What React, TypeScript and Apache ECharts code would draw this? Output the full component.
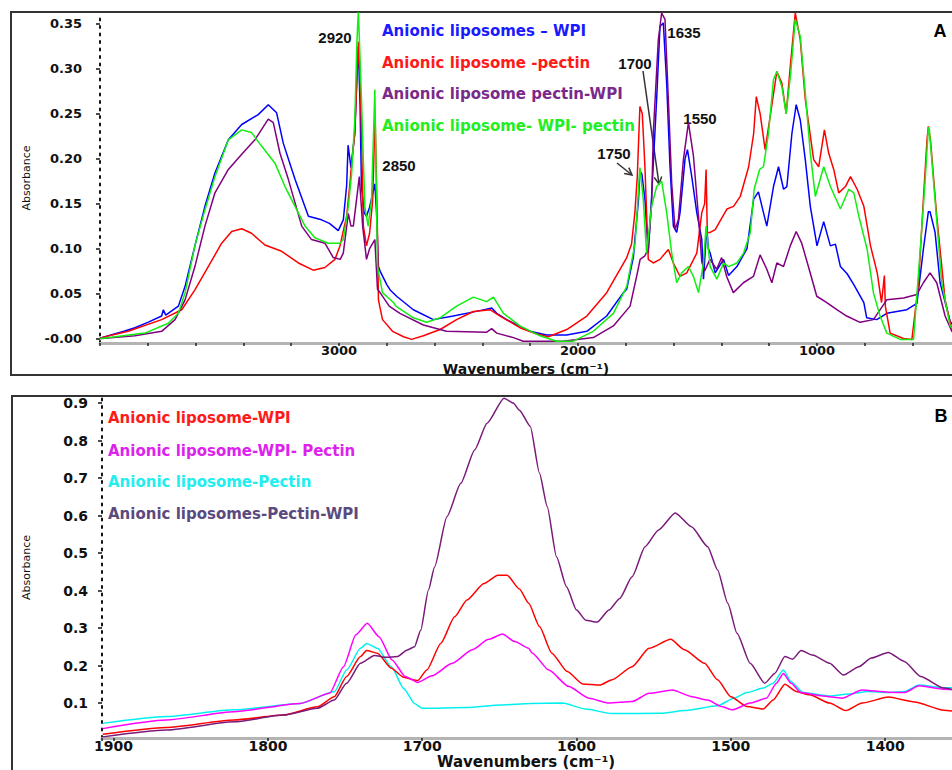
import React, { useEffect, useRef } from "react";
import * as echarts from "echarts";

type P = [number, number];

// ---------- Panel A (full spectrum) ----------
const A_X_LABELS = [1000, 2000, 3000];

const wpiA: P[] = [[4000,0.0],[3993,0.001],[3900,0.008],[3854,0.012],[3800,0.018],[3742,0.025],[3735,0.032],[3725,0.026],[3672,0.036],[3644,0.058],[3603,0.103],[3561,0.147],[3519,0.184],[3463,0.221],[3407,0.238],[3338,0.249],[3296,0.26],[3261,0.251],[3233,0.217],[3184,0.177],[3128,0.136],[3073,0.132],[3040,0.128],[3003,0.12],[2982,0.132],[2968,0.17],[2962,0.215],[2950,0.19],[2934,0.228],[2925,0.29],[2919,0.325],[2912,0.26],[2906,0.169],[2895,0.14],[2885,0.136],[2872,0.146],[2860,0.16],[2850,0.172],[2843,0.14],[2835,0.08],[2828,0.075],[2800,0.06],[2786,0.054],[2759,0.047],[2689,0.032],[2605,0.021],[2522,0.025],[2410,0.031],[2361,0.034],[2340,0.028],[2298,0.021],[2201,0.008],[2131,0.004],[2047,0.004],[1963,0.008],[1880,0.025],[1810,0.051],[1796,0.055],[1768,0.091],[1762,0.11],[1747,0.154],[1741,0.186],[1733,0.183],[1720,0.155],[1706,0.095],[1692,0.158],[1671,0.266],[1657,0.347],[1643,0.351],[1629,0.284],[1615,0.191],[1601,0.125],[1587,0.118],[1573,0.14],[1552,0.2],[1542,0.21],[1524,0.18],[1503,0.14],[1482,0.11],[1475,0.066],[1461,0.125],[1455,0.1],[1447,0.095],[1426,0.073],[1391,0.088],[1370,0.07],[1335,0.08],[1293,0.1],[1265,0.155],[1245,0.163],[1224,0.14],[1210,0.125],[1182,0.169],[1161,0.191],[1140,0.166],[1126,0.169],[1105,0.228],[1087,0.26],[1070,0.243],[1049,0.199],[1028,0.147],[1000,0.103],[972,0.13],[944,0.103],[923,0.105],[902,0.08],[874,0.072],[846,0.06],[804,0.04],[792,0.023],[750,0.021],[708,0.028],[624,0.032],[582,0.039],[555,0.099],[534,0.141],[527,0.141],[506,0.118],[485,0.062],[443,0.019],[400,0.005]];

const pectinA: P[] = [[4000,0.0],[3993,0.001],[3882,0.008],[3742,0.021],[3658,0.032],[3603,0.054],[3547,0.08],[3491,0.106],[3449,0.119],[3407,0.122],[3366,0.117],[3310,0.104],[3240,0.097],[3170,0.084],[3108,0.076],[3059,0.079],[3017,0.088],[2996,0.103],[2968,0.136],[2954,0.173],[2947,0.195],[2934,0.228],[2919,0.33],[2909,0.266],[2898,0.125],[2885,0.103],[2872,0.117],[2859,0.154],[2849,0.249],[2839,0.117],[2835,0.043],[2818,0.021],[2776,0.008],[2730,0.002],[2696,-0.001],[2647,0.003],[2577,0.01],[2508,0.021],[2438,0.03],[2368,0.032],[2326,0.025],[2243,0.012],[2173,0.005],[2124,0.002],[2047,0.01],[1963,0.025],[1880,0.051],[1796,0.09],[1776,0.105],[1762,0.14],[1752,0.18],[1741,0.258],[1731,0.25],[1720,0.191],[1706,0.088],[1685,0.084],[1657,0.088],[1622,0.099],[1601,0.084],[1573,0.069],[1545,0.073],[1503,0.095],[1482,0.14],[1470,0.15],[1464,0.188],[1459,0.118],[1447,0.118],[1426,0.121],[1377,0.144],[1349,0.147],[1321,0.158],[1286,0.191],[1265,0.228],[1254,0.269],[1238,0.25],[1217,0.21],[1196,0.247],[1168,0.297],[1147,0.284],[1129,0.25],[1112,0.302],[1091,0.362],[1070,0.332],[1049,0.266],[1014,0.199],[993,0.191],[969,0.232],[951,0.206],[930,0.188],[909,0.162],[881,0.169],[860,0.18],[832,0.166],[804,0.147],[776,0.103],[748,0.073],[730,0.04],[718,0.07],[714,0.036],[694,0.006],[638,0.0],[603,-0.001],[575,0.062],[555,0.154],[540,0.22],[534,0.236],[525,0.22],[499,0.136],[464,0.043],[436,0.01],[400,0.002]];

const pectinWpiA: P[] = [[4000,0.0],[3993,0.0],[3854,0.003],[3742,0.008],[3686,0.021],[3644,0.043],[3603,0.08],[3561,0.125],[3519,0.162],[3463,0.188],[3407,0.205],[3352,0.221],[3296,0.244],[3275,0.24],[3247,0.206],[3212,0.177],[3156,0.125],[3115,0.11],[3059,0.106],[3024,0.09],[2995,0.088],[2982,0.095],[2961,0.139],[2950,0.125],[2940,0.125],[2915,0.18],[2901,0.125],[2885,0.088],[2872,0.1],[2850,0.11],[2839,0.055],[2828,0.051],[2790,0.036],[2745,0.028],[2647,0.015],[2550,0.008],[2382,0.007],[2361,0.011],[2340,0.006],[2270,0.001],[2229,-0.003],[2062,-0.003],[1936,0.001],[1852,0.014],[1782,0.036],[1754,0.07],[1740,0.088],[1720,0.092],[1706,0.1],[1692,0.15],[1685,0.228],[1664,0.332],[1650,0.362],[1636,0.355],[1622,0.266],[1608,0.173],[1594,0.121],[1580,0.132],[1559,0.199],[1538,0.24],[1517,0.203],[1496,0.136],[1482,0.085],[1470,0.075],[1448,0.088],[1420,0.077],[1399,0.09],[1378,0.069],[1350,0.051],[1308,0.062],[1266,0.069],[1238,0.093],[1210,0.077],[1189,0.062],[1168,0.084],[1140,0.08],[1112,0.103],[1087,0.119],[1064,0.106],[1036,0.08],[1001,0.047],[959,0.04],[917,0.032],[876,0.025],[820,0.018],[764,0.021],[708,0.043],[638,0.045],[582,0.049],[555,0.062],[527,0.073],[499,0.062],[464,0.025],[436,0.008],[400,0.002]];

const wpiPectinA: P[] = [[4000,0.0],[3993,0.0],[3812,0.006],[3714,0.017],[3672,0.028],[3644,0.051],[3603,0.103],[3561,0.143],[3519,0.18],[3463,0.221],[3407,0.232],[3366,0.229],[3324,0.214],[3268,0.195],[3226,0.169],[3184,0.147],[3142,0.125],[3101,0.112],[3045,0.106],[2996,0.106],[2982,0.11],[2961,0.147],[2947,0.184],[2934,0.243],[2925,0.33],[2919,0.365],[2906,0.266],[2892,0.147],[2878,0.125],[2864,0.154],[2850,0.277],[2839,0.08],[2828,0.065],[2818,0.051],[2772,0.04],[2762,0.036],[2689,0.023],[2633,0.018],[2577,0.023],[2508,0.036],[2438,0.046],[2382,0.041],[2354,0.046],[2312,0.028],[2243,0.014],[2159,0.003],[2089,-0.003],[2020,-0.003],[1936,0.008],[1852,0.028],[1796,0.058],[1761,0.106],[1741,0.19],[1727,0.155],[1713,0.095],[1692,0.147],[1671,0.169],[1650,0.175],[1629,0.14],[1608,0.095],[1587,0.062],[1566,0.073],[1538,0.08],[1517,0.069],[1496,0.051],[1475,0.084],[1464,0.125],[1447,0.08],[1419,0.066],[1391,0.084],[1370,0.08],[1335,0.084],[1307,0.095],[1279,0.118],[1263,0.166],[1240,0.188],[1224,0.191],[1203,0.228],[1182,0.288],[1168,0.297],[1147,0.28],[1129,0.25],[1110,0.295],[1091,0.355],[1070,0.336],[1049,0.273],[1028,0.206],[1007,0.158],[972,0.191],[944,0.169],[902,0.144],[867,0.166],[846,0.162],[825,0.136],[790,0.099],[764,0.051],[736,0.025],[708,0.006],[652,-0.001],[596,-0.001],[568,0.099],[548,0.173],[534,0.235],[530,0.232],[506,0.154],[478,0.062],[443,0.014],[400,0.002]];

// ---------- Panel B (1900-1350 region) ----------
const B_X_LABELS = [1400, 1500, 1600, 1700, 1800, 1900];

const wpiB: P[] = [[1907,0.017],[1866,0.035],[1822,0.055],[1790,0.068],[1768,0.09],[1757,0.117],[1749,0.171],[1740,0.224],[1736,0.24],[1729,0.233],[1720,0.193],[1712,0.169],[1703,0.16],[1697,0.188],[1688,0.259],[1679,0.33],[1671,0.375],[1660,0.419],[1651,0.441],[1645,0.441],[1637,0.404],[1631,0.366],[1624,0.304],[1616,0.233],[1606,0.184],[1596,0.151],[1585,0.148],[1577,0.162],[1564,0.197],[1553,0.246],[1539,0.27],[1530,0.242],[1517,0.206],[1508.6,0.162],[1500,0.117],[1489.6,0.091],[1479,0.084],[1472.6,0.108],[1465,0.15],[1457.6,0.131],[1449,0.122],[1436,0.1],[1425.5,0.08],[1415,0.1],[1398,0.116],[1381,0.103],[1362,0.081],[1350,0.075]];

const wpiPectinB: P[] = [[1907,0.032],[1866,0.055],[1822,0.077],[1779,0.099],[1760,0.126],[1751,0.197],[1743,0.282],[1735.6,0.313],[1728,0.277],[1719.5,0.215],[1711,0.171],[1703,0.155],[1693.6,0.173],[1680.6,0.206],[1667.6,0.242],[1657,0.27],[1648,0.284],[1640,0.264],[1631,0.246],[1628.6,0.233],[1618,0.188],[1605,0.144],[1592,0.113],[1579,0.1],[1564,0.104],[1553,0.126],[1538,0.135],[1525,0.117],[1515,0.108],[1506,0.091],[1499,0.082],[1487.5,0.1],[1477,0.113],[1470.5,0.153],[1466,0.179],[1461,0.153],[1454.5,0.128],[1440.5,0.119],[1428,0.113],[1415,0.135],[1398,0.129],[1387.6,0.128],[1378,0.146],[1362,0.137],[1350,0.135]];

const pectinB: P[] = [[1907,0.046],[1866,0.064],[1822,0.082],[1779,0.099],[1757,0.13],[1749,0.188],[1740,0.246],[1736,0.259],[1729,0.246],[1720,0.197],[1712,0.139],[1705,0.099],[1700,0.086],[1671,0.088],[1649,0.095],[1630,0.099],[1609,0.1],[1594,0.084],[1577,0.072],[1545,0.073],[1530,0.08],[1508.6,0.093],[1498,0.113],[1489.6,0.128],[1479,0.14],[1472.6,0.153],[1466,0.188],[1461,0.157],[1453,0.128],[1436,0.119],[1423.5,0.124],[1411,0.131],[1398,0.128],[1387.6,0.131],[1378,0.148],[1362,0.141],[1350,0.14]];

const pectinWpiB: P[] = [[1907,0.01],[1866,0.028],[1822,0.05],[1790,0.068],[1768,0.086],[1757,0.108],[1749,0.153],[1740,0.206],[1731,0.227],[1723,0.222],[1716,0.224],[1710,0.241],[1705,0.25],[1701,0.294],[1696,0.401],[1692,0.463],[1684,0.597],[1675,0.686],[1666,0.775],[1658,0.846],[1647,0.913],[1641,0.9],[1637,0.881],[1630,0.838],[1624,0.713],[1619,0.624],[1613,0.49],[1606.5,0.41],[1600,0.348],[1594,0.321],[1586.5,0.316],[1579,0.348],[1572,0.379],[1564,0.437],[1555.6,0.517],[1547,0.561],[1536,0.607],[1525.5,0.57],[1515,0.517],[1508.6,0.455],[1502,0.366],[1496,0.286],[1487.5,0.206],[1478,0.153],[1471.6,0.179],[1465,0.224],[1460,0.217],[1454.5,0.24],[1447,0.228],[1436,0.206],[1427,0.175],[1417,0.197],[1409,0.22],[1398,0.235],[1387.6,0.211],[1377,0.171],[1362,0.14],[1350,0.13]];

const A_NAMES = ["Anionic liposomes \u2013 WPI", "Anionic liposome -pectin", "Anionic liposome pectin-WPI", "Anionic liposome- WPI- pectin"];
const B_NAMES = ["Anionic liposome-WPI", "Anionic liposome-WPI- Pectin", "Anionic liposome-Pectin", "Anionic liposomes-Pectin-WPI"];
const PEAK_LABELS = ["2920", "2850", "1750", "1700", "1635", "1550"];

const DV = '"DejaVu Sans", sans-serif';
const AR = '"Liberation Sans", Arial, sans-serif';

function arrow(x1: number, y1: number, x2: number, y2: number) {
  const dx = x2 - x1, dy = y2 - y1;
  const L = Math.hypot(dx, dy);
  const ux = dx / L, uy = dy / L;
  const h = 8, a = (28 * Math.PI) / 180;
  const p1 = [x2 - h * (ux * Math.cos(a) - uy * Math.sin(a)), y2 - h * (uy * Math.cos(a) + ux * Math.sin(a))];
  const p2 = [x2 - h * (ux * Math.cos(a) + uy * Math.sin(a)), y2 - h * (uy * Math.cos(a) - ux * Math.sin(a))];
  return [
    { type: "line", shape: { x1, y1, x2, y2 }, style: { stroke: "#333", lineWidth: 1.5 } },
    { type: "polyline", shape: { points: [p1, [x2, y2], p2] }, style: { stroke: "#333", lineWidth: 1.5, fill: null } },
  ];
}

export default function App() {
  const ref = useRef<HTMLDivElement>(null);
  useEffect(() => {
    const chart = echarts.init(ref.current!, null, { renderer: "svg" });
    const xAxisBase = (idx: number) => ({
      gridIndex: idx,
      type: "value",
      inverse: true,
      axisLine: { show: true, onZero: false, lineStyle: { color: "#b4b4b4", width: 3 } },
      axisTick: { show: true, length: 3, lineStyle: { color: "#222", width: 1.5 } },
      splitLine: { show: false },
    });
    const yAxisBase = (idx: number) => ({
      gridIndex: idx,
      type: "value",
      axisLine: { show: true, onZero: false, lineStyle: { color: "#111", width: 2, type: [2, 5.5] } },
      axisTick: { show: true, length: 4, lineStyle: { color: "#111", width: 1.5 } },
      splitLine: { show: false },
      name: "Absorbance",
      nameLocation: "middle",
      nameTextStyle: { fontFamily: DV, fontSize: 11, color: "#111" },
    });
    const line = (name: string, data: P[], color: string, xi: number) => ({
      type: "line",
      name,
      xAxisIndex: xi,
      yAxisIndex: xi,
      data,
      showSymbol: false,
      symbol: "none",
      smooth: xi === 1 ? 0.2 : false,
      smoothMonotone: "x",
      lineStyle: { width: 1.5, color },
      itemStyle: { color },
      clip: true,
    });
    const legendText = (x: number, y: number, text: string, fill: string) => ({
      type: "text",
      x,
      y,
      style: { text, fill, font: `bold 15px ${DV}`, align: "left", verticalAlign: "middle" },
    });
    const peak = (x: number, y: number, text: string) => ({
      type: "text",
      x,
      y,
      style: { text, fill: "#111", font: `bold 15px ${AR}`, align: "center", verticalAlign: "middle" },
    });
    chart.setOption({
      animation: false,
      backgroundColor: "#fff",
      grid: [
        { left: 100, top: 13, width: 860.4, height: 330 },
        { left: 102, top: 397, width: 937.5, height: 341 },
      ],
      xAxis: [
        {
          ...xAxisBase(0),
          min: 400,
          max: 4000,
          interval: 200,
          axisLabel: {
            formatter: (v: number) => (A_X_LABELS.includes(v) ? String(v) : ""),
            fontFamily: DV, fontWeight: "bold", fontSize: 13, color: "#111", margin: 1,
          },
        },
        {
          ...xAxisBase(1),
          min: 1300,
          max: 1907.5,
          interval: 100,
          axisLabel: {
            formatter: (v: number) => (B_X_LABELS.includes(v) ? String(v) : ""),
            fontFamily: DV, fontWeight: "bold", fontSize: 14, color: "#111", margin: 1,
          },
        },
      ],
      yAxis: [
        {
          ...yAxisBase(0),
          min: -0.005,
          max: 0.362,
          minInterval: 0.05,
          maxInterval: 0.05,
          splitNumber: 7,
          nameGap: 68,
          axisLabel: {
            showMinLabel: false, showMaxLabel: false,
            formatter: (v: number) => (Math.abs(v) < 1e-9 ? "-0.00" : v.toFixed(2)),
            fontFamily: DV, fontWeight: "bold", fontSize: 13, color: "#111", margin: 18,
          },
        },
        {
          ...yAxisBase(1),
          min: 0.007,
          max: 0.916,
          minInterval: 0.1,
          maxInterval: 0.1,
          splitNumber: 9,
          nameGap: 70,
          axisLabel: {
            showMinLabel: false, showMaxLabel: false,
            formatter: (v: number) => v.toFixed(1),
            fontFamily: DV, fontWeight: "bold", fontSize: 14, color: "#111", margin: 14,
          },
        },
      ],
      series: [
        line(A_NAMES[0], wpiA, "#0000ff", 0),
        line(A_NAMES[1], pectinA, "#ff0000", 0),
        line(A_NAMES[2], pectinWpiA, "#800080", 0),
        line(A_NAMES[3], wpiPectinA, "#11ee11", 0),
        line(B_NAMES[2], pectinB, "#00f0f0", 1),
        line(B_NAMES[0], wpiB, "#ff0000", 1),
        line(B_NAMES[1], wpiPectinB, "#ff00ff", 1),
        line(B_NAMES[3], pectinWpiB, "#7a1a7a", 1),
      ],
      graphic: [
        { type: "rect", shape: { x: 11, y: 12, width: 1100, height: 363 }, style: { stroke: "#333", lineWidth: 2, fill: null }, silent: true },
        { type: "rect", shape: { x: 12, y: 396, width: 1100, height: 420 }, style: { stroke: "#333", lineWidth: 2, fill: null }, silent: true },
        legendText(382, 31, A_NAMES[0], "#1a1aff"),
        legendText(382, 63, A_NAMES[1], "#ff1a1a"),
        legendText(382, 94, A_NAMES[2], "#7a2a8a"),
        legendText(382, 126, A_NAMES[3], "#22ee22"),
        legendText(108, 418, B_NAMES[0], "#ff1a1a"),
        legendText(108, 451, B_NAMES[1], "#dd22ee"),
        legendText(108, 482, B_NAMES[2], "#22eeee"),
        legendText(108, 514, B_NAMES[3], "#5a4a80"),
        peak(335, 37, PEAK_LABELS[0]),
        peak(399, 165, PEAK_LABELS[1]),
        peak(614, 153, PEAK_LABELS[2]),
        peak(635, 63, PEAK_LABELS[3]),
        peak(684, 32, PEAK_LABELS[4]),
        peak(700, 118, PEAK_LABELS[5]),
        ...arrow(617, 163, 632, 175),
        ...arrow(643, 71, 659, 184),
        { type: "text", x: 940, y: 31, style: { text: "A", fill: "#000", font: `bold 18px ${AR}`, align: "center", verticalAlign: "middle" } },
        { type: "text", x: 941, y: 416, style: { text: "B", fill: "#000", font: `bold 18px ${AR}`, align: "center", verticalAlign: "middle" } },
        { type: "text", x: 526, y: 368.5, style: { text: "Wavenumbers (cm\u207B\u00B9)", fill: "#111", font: `bold 14px ${DV}`, align: "center", verticalAlign: "middle" } },
        { type: "text", x: 526, y: 762, style: { text: "Wavenumbers (cm\u207B\u00B9)", fill: "#111", font: `bold 15px ${DV}`, align: "center", verticalAlign: "middle" } },
      ],
    });
    return () => chart.dispose();
  }, []);
  return (
    <div style={{ position: "absolute", left: 0, top: 0, width: 952, height: 770, overflow: "hidden", background: "#fff" }}>
      <div ref={ref} style={{ position: "absolute", left: 0, top: 0, width: 1100, height: 770 }} />
    </div>
  );
}
